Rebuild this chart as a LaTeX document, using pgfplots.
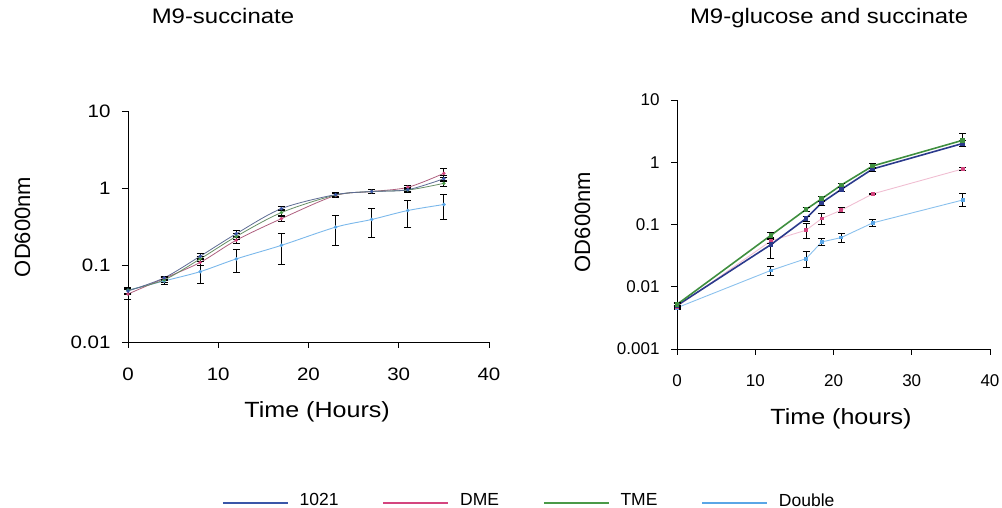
\documentclass[border=0pt]{standalone}
\usepackage{fontspec}
\setmainfont{Liberation Sans}
\usepackage{graphicx}
\usepackage{pgfplots}
\usepackage{pgfplotstable}
\pgfplotsset{compat=1.18}

\definecolor{c1021}{HTML}{3A56A8}
\definecolor{cDME}{HTML}{D4457F}
\definecolor{cTME}{HTML}{4A9A48}
\definecolor{cDbl}{HTML}{5AA6E6}
\definecolor{r1021}{HTML}{2B3A8C}
\definecolor{rTME}{HTML}{3F8F3F}

\newcommand\sx[1]{\scalebox{1.14}[1]{#1}}

% ---- M9-succinate ----
\pgfplotstableread{
t y ep em
0 0.046 0.004 0.004
4 0.068 0.004 0.004
8 0.130 0.010 0.010
12 0.255 0.025 0.022
17 0.540 0.035 0.035
23 0.820 0.050 0.050
27 0.900 0.050 0.050
31 0.950 0.060 0.060
35 1.320 0.120 0.120
}\LaA
\pgfplotstableread{
t y ep em
0 0.042 0.006 0.006
4 0.067 0.004 0.004
8 0.108 0.010 0.010
12 0.210 0.020 0.018
17 0.400 0.040 0.035
23 0.800 0.050 0.050
27 0.900 0.050 0.050
31 1.020 0.070 0.060
35 1.550 0.220 0.180
}\LaB
\pgfplotstableread{
t y ep em
0 0.047 0.004 0.004
4 0.064 0.005 0.005
8 0.120 0.010 0.010
12 0.235 0.020 0.020
17 0.480 0.050 0.050
23 0.810 0.060 0.060
27 0.900 0.050 0.050
31 0.940 0.060 0.060
35 1.150 0.100 0.100
}\LaC
\pgfplotstableread{
t y ep em
0 0.047 0.004 0.004
4 0.062 0.007 0.006
8 0.082 0.040 0.024
12 0.120 0.037 0.041
17 0.180 0.074 0.077
23 0.310 0.126 0.128
27 0.390 0.158 0.160
31 0.510 0.180 0.200
35 0.610 0.225 0.224
}\LaD

% ---- M9-glucose and succinate ----
\pgfplotstableread{
t y ep em
0 0.0050 0.0003 0.0003
12 0.0475 0.0155 0.0192
16.5 0.125 0.012 0.012
18.5 0.224 0.020 0.020
21 0.367 0.030 0.030
25 0.780 0.060 0.060
36.5 2.00 0.20 0.20
}\RaA
\pgfplotstableread{
t y ep em
0 0.0048 0.0003 0.0003
12 0.0545 0.004 0.004
16.5 0.081 0.023 0.022
18.5 0.125 0.025 0.024
21 0.170 0.015 0.015
25 0.310 0.008 0.008
36.5 0.780 0.030 0.030
}\RaB
\pgfplotstableread{
t y ep em
0 0.0052 0.0003 0.0003
12 0.067 0.008 0.008
16.5 0.175 0.012 0.012
18.5 0.26 0.025 0.025
21 0.43 0.03 0.03
25 0.87 0.08 0.08
36.5 2.25 0.70 0.45
}\RaC
\pgfplotstableread{
t y ep em
0 0.0046 0.0003 0.0003
12 0.0183 0.0027 0.0030
16.5 0.0283 0.0081 0.0077
18.5 0.0525 0.0065 0.0059
21 0.0617 0.0097 0.0094
25 0.106 0.014 0.012
36.5 0.247 0.069 0.050
}\RaD

\begin{document}
\begin{tikzpicture}[x=1pt,y=1pt]
\useasboundingbox (0,0) rectangle (1002,508);

\begin{axis}[
  scale only axis, ymode=log, xmin=0, xmax=40,
  axis x line=bottom, axis y line=left,
  axis line style={-, black, line width=0.9pt},
  tick align=outside, major tick length=6pt,
  tick style={black, line width=0.9pt},
  yminorticks=false, xminorticks=false,
  xtick={0,10,20,30,40},
  clip=false,
  at={(128pt,166pt)}, anchor=south west, width=361pt, height=231pt,
  ymin=0.01, ymax=10,
  ytick={0.01,0.1,1,10}, yticklabels={\sx{0.01},\sx{0.1},\sx{1},\sx{10}},
  xticklabels={\sx{0},\sx{10},\sx{20},\sx{30},\sx{40}},
  yticklabel style={font=\fontsize{18}{18}\selectfont, xshift=-8pt},
  xticklabel style={font=\fontsize{18}{18}\selectfont, yshift=-16pt},
  title={\sx{M9-succinate}},
  title style={at={(axis description cs:0.263,1.354)}, anchor=base, font=\fontsize{21}{21}\selectfont},
  xlabel={\sx{Time (Hours)}},
  xlabel style={at={(axis description cs:0.524,-0.327)}, anchor=base, font=\fontsize{22}{22}\selectfont},
  ylabel={OD600nm},
  ylabel style={at={(axis description cs:-0.292,0.498)}, anchor=center, font=\fontsize{22}{22}\selectfont},
  legend style={at={(axis description cs:0.2604,-0.6861)}, anchor=west, draw=none, fill=none,
    inner sep=0pt, font=\fontsize{17.5}{17.5}\selectfont, legend columns=4,
    /tikz/every odd column/.append style={column sep=9pt},
    /tikz/every even column/.append style={column sep=42pt}},
]
\addlegendimage{legend image code/.code={\draw[draw=c1021, line width=1.5pt] (0pt,-2.5pt) -- (65pt,-2.5pt);}}\addlegendentry{1021}
\addlegendimage{legend image code/.code={\draw[draw=cDME, line width=1.5pt] (0pt,-2.5pt) -- (65pt,-2.5pt);}}\addlegendentry{DME}
\addlegendimage{legend image code/.code={\draw[draw=cTME, line width=1.5pt] (0pt,-2.5pt) -- (65pt,-2.5pt);}}\addlegendentry{TME}
\addlegendimage{legend image code/.code={\draw[draw=cDbl, line width=1.5pt] (0pt,-2.5pt) -- (65pt,-2.5pt);}}\addlegendentry{Double}

\addplot[forget plot, cDbl!80!white, line width=0.9pt, smooth, tension=0.5, mark=*, mark size=1.3pt, mark options={cDbl},
  error bars/.cd, y dir=both, y explicit, error bar style={black, line width=0.9pt},
  error mark options={rotate=90, black, mark size=3.5pt, line width=0.9pt}]
  table[x=t, y=y, y error plus=ep, y error minus=em] {\LaD};
\addplot[forget plot, cDME!55!gray, line width=0.8pt, smooth, tension=0.5, mark=*, mark size=1.3pt, mark options={cDME},
  error bars/.cd, y dir=both, y explicit, error bar style={black, line width=0.9pt},
  error mark options={rotate=90, black, mark size=3.5pt, line width=0.9pt}]
  table[x=t, y=y, y error plus=ep, y error minus=em] {\LaB};
\addplot[forget plot, cTME!50!gray, line width=0.8pt, smooth, tension=0.5, mark=*, mark size=1.3pt, mark options={cTME},
  error bars/.cd, y dir=both, y explicit, error bar style={black, line width=0.9pt},
  error mark options={rotate=90, black, mark size=3.5pt, line width=0.9pt}]
  table[x=t, y=y, y error plus=ep, y error minus=em] {\LaC};
\addplot[forget plot, c1021!50!gray, line width=0.8pt, smooth, tension=0.5, mark=*, mark size=1.3pt, mark options={c1021},
  error bars/.cd, y dir=both, y explicit, error bar style={black, line width=0.9pt},
  error mark options={rotate=90, black, mark size=3.5pt, line width=0.9pt}]
  table[x=t, y=y, y error plus=ep, y error minus=em] {\LaA};
\end{axis}

\begin{axis}[
  scale only axis, ymode=log, xmin=0, xmax=40,
  axis x line=bottom, axis y line=left,
  axis line style={-, black, line width=0.9pt},
  tick align=outside, major tick length=6pt,
  tick style={black, line width=0.9pt},
  yminorticks=false, xminorticks=false,
  xtick={0,10,20,30,40},
  clip=false,
  at={(677pt,159pt)}, anchor=south west, width=313pt, height=249pt,
  ymin=0.001, ymax=10,
  ytick={0.001,0.01,0.1,1,10}, yticklabels={0.001,0.01,0.1,1,10},
  xticklabels={0,10,20,30,40},
  yticklabel style={font=\fontsize{17}{17}\selectfont, xshift=-8pt},
  xticklabel style={font=\fontsize{17}{17}\selectfont, yshift=-16pt},
  title={\sx{M9-glucose and succinate}},
  title style={at={(axis description cs:0.486,1.284)}, anchor=base, font=\fontsize{21}{21}\selectfont},
  xlabel={\sx{Time (hours)}},
  xlabel style={at={(axis description cs:0.524,-0.3016)}, anchor=base, font=\fontsize{22}{22}\selectfont},
  ylabel={OD600nm},
  ylabel style={at={(axis description cs:-0.302,0.51)}, anchor=center, font=\fontsize{22}{22}\selectfont},
]
\addplot[cDbl!70!white, line width=0.9pt, mark=square*, mark size=1.4pt, mark options={cDbl},
  error bars/.cd, y dir=both, y explicit, error bar style={black, line width=0.9pt},
  error mark options={rotate=90, black, mark size=3.5pt, line width=0.9pt}]
  table[x=t, y=y, y error plus=ep, y error minus=em] {\RaD};
\addplot[cDME!35!white, line width=0.9pt, mark=square*, mark size=1.4pt, mark options={cDME},
  error bars/.cd, y dir=both, y explicit, error bar style={black, line width=0.9pt},
  error mark options={rotate=90, black, mark size=3.5pt, line width=0.9pt}]
  table[x=t, y=y, y error plus=ep, y error minus=em] {\RaB};
\addplot[r1021, line width=1.6pt, mark=square*, mark size=1.5pt, mark options={r1021},
  error bars/.cd, y dir=both, y explicit, error bar style={black, line width=0.9pt},
  error mark options={rotate=90, black, mark size=3.5pt, line width=0.9pt}]
  table[x=t, y=y, y error plus=ep, y error minus=em] {\RaA};
\addplot[rTME, line width=1.6pt, mark=square*, mark size=1.5pt, mark options={rTME},
  error bars/.cd, y dir=both, y explicit, error bar style={black, line width=0.9pt},
  error mark options={rotate=90, black, mark size=3.5pt, line width=0.9pt}]
  table[x=t, y=y, y error plus=ep, y error minus=em] {\RaC};
\end{axis}
\end{tikzpicture}
\end{document}
